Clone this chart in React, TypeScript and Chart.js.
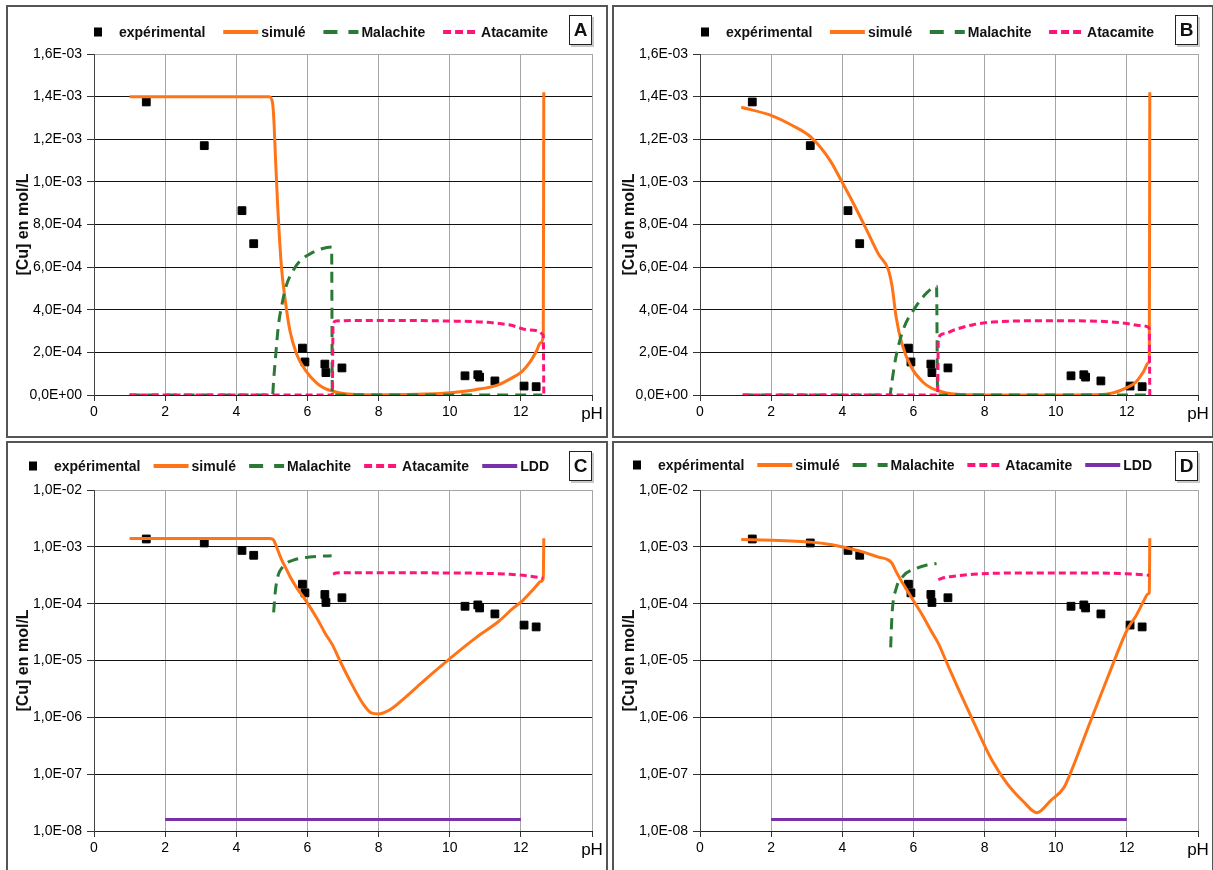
import React, { useEffect, useRef } from 'react';
import { Chart, registerables } from 'chart.js';

Chart.register(...registerables);

const FONT = "'Liberation Sans', Arial, sans-serif";

// ---------- data ----------
const X_TICKS = [0, 2, 4, 6, 8, 10, 12, 14];
const LIN_TICKS = [0, 2e-4, 4e-4, 6e-4, 8e-4, 1.0e-3, 1.2e-3, 1.4e-3, 1.6e-3];
const LOG_TICKS = [1e-8, 1e-7, 1e-6, 1e-5, 1e-4, 1e-3, 1e-2];

const LEGEND_NAMES = ['expérimental', 'simulé', 'Malachite', 'Atacamite', 'LDD'];
const Y_TITLE = '[Cu] en mol/L';

const phExp = [1.47, 3.10, 4.16, 4.49, 5.86, 5.93, 6.49, 6.52, 6.97, 10.43, 10.79, 10.84, 11.27, 12.09, 12.43];
const cuExp = [1.375e-3, 1.17e-3, 8.65e-4, 7.1e-4, 2.2e-4, 1.55e-4, 1.45e-4, 1.05e-4, 1.27e-4, 9.0e-5, 9.5e-5, 8.4e-5, 6.6e-5, 4.2e-5, 3.9e-5];

// simulation 1 (panels A and C)
const phSim1 = [1.0, 4.93, 5.02, 5.06, 5.10, 5.16, 5.27, 5.38, 5.51, 5.70, 5.94, 6.27, 6.50, 6.70, 6.92, 7.25, 7.57, 7.79, 8.01, 8.33, 8.77, 9.31, 10.02, 10.73, 11.38, 11.79, 12.03, 12.26, 12.45, 12.55, 12.63, 12.645];
const cuSim1 = [1.4e-3, 1.4e-3, 1.37e-3, 1.28e-3, 1.12e-3, 9.0e-4, 6.0e-4, 4.4e-4, 3.0e-4, 1.9e-4, 1.17e-4, 5.5e-5, 3.0e-5, 1.9e-5, 9.7e-6, 3.8e-6, 1.7e-6, 1.2e-6, 1.15e-6, 1.37e-6, 2.3e-6, 4.6e-6, 1.1e-5, 2.5e-5, 4.9e-5, 8.4e-5, 1.1e-4, 1.55e-4, 2.1e-4, 2.45e-4, 2.8e-4, 1.42e-3];
const phMal1 = [1.0, 5.02, 5.05, 5.10, 5.18, 5.29, 5.40, 5.62, 5.80, 6.05, 6.38, 6.68, 6.70, 12.6];
const cuMal1 = [0, 0, 7e-5, 1.7e-4, 3.2e-4, 4.3e-4, 5.1e-4, 5.9e-4, 6.3e-4, 6.6e-4, 6.85e-4, 6.95e-4, 0, 0];
const phAta1 = [1.0, 6.70, 6.72, 6.80, 7.5, 10.0, 11.05, 11.7, 12.25, 12.63, 12.645];
const cuAta1 = [0, 0, 3.3e-4, 3.47e-4, 3.5e-4, 3.47e-4, 3.41e-4, 3.28e-4, 3.05e-4, 2.8e-4, 0];

// simulation 2 (panels B and D)
const phSim2 = [1.16, 2.03, 2.57, 3.12, 3.66, 3.99, 4.31, 4.64, 5.02, 5.29, 5.40, 5.51, 5.67, 5.94, 6.27, 6.50, 6.70, 6.92, 7.25, 7.68, 8.22, 8.65, 9.09, 9.47, 9.85, 10.23, 10.40, 10.94, 11.49, 12.03, 12.25, 12.47, 12.60, 12.63, 12.645];
const cuSim2 = [1.35e-3, 1.31e-3, 1.267e-3, 1.21e-3, 1.10e-3, 1.0e-3, 9.0e-4, 7.9e-4, 6.6e-4, 5.9e-4, 5.1e-4, 3.7e-4, 2.45e-4, 1.3e-4, 6.0e-5, 3.3e-5, 2.0e-5, 9.7e-6, 3.3e-6, 8.6e-7, 1.7e-7, 6.6e-8, 3.3e-8, 2.1e-8, 3.4e-8, 5.8e-8, 9.9e-8, 7.4e-7, 5.6e-6, 3.7e-5, 6.0e-5, 1.1e-4, 1.5e-4, 1.55e-4, 1.42e-3];
const phMal2 = [1.2, 5.34, 5.36, 5.40, 5.51, 5.72, 6.05, 6.38, 6.65, 6.68, 12.6];
const cuMal2 = [0, 0, 1.7e-5, 6.7e-5, 1.8e-4, 3.1e-4, 4.1e-4, 4.8e-4, 5.1e-4, 0, 0];
const phAta2 = [1.2, 6.68, 6.70, 6.87, 7.14, 7.68, 8.22, 9.31, 10.40, 11.49, 12.00, 12.35, 12.63, 12.645];
const cuAta2 = [0, 0, 2.66e-4, 2.88e-4, 3.05e-4, 3.3e-4, 3.42e-4, 3.48e-4, 3.48e-4, 3.44e-4, 3.36e-4, 3.26e-4, 3.15e-4, 0];

const phLdd = [2, 12];
const cuLdd = [1.6e-8, 1.6e-8];

// ---------- styles ----------
const ORANGE = '#FF7417';
const GREEN = '#2A7A35';
const PINK = '#FF1478';
const PURPLE = '#7A30A8';

type PanelCfg = {
  letter: string;
  log: boolean;
  left: number;
  top: number;
  sim: [number[], number[]];
  mal: [number[], number[]];
  ata: [number[], number[]];
  ldd: boolean;
  legendLeft: number;
  legendRight: number;
  legendY: number;
};

const PANELS: PanelCfg[] = [
  { letter: 'A', log: false, left: 6, top: 5, sim: [phSim1, cuSim1], mal: [phMal1, cuMal1], ata: [phAta1, cuAta1], ldd: false, legendLeft: 73, legendRight: 540, legendY: 25 },
  { letter: 'B', log: false, left: 612, top: 5, sim: [phSim2, cuSim2], mal: [phMal2, cuMal2], ata: [phAta2, cuAta2], ldd: false, legendLeft: 74, legendRight: 540, legendY: 25 },
  { letter: 'C', log: true, left: 6, top: 441, sim: [phSim1, cuSim1], mal: [phMal1, cuMal1], ata: [phAta1, cuAta1], ldd: true, legendLeft: 8, legendRight: 541, legendY: 23 },
  { letter: 'D', log: true, left: 612, top: 441, sim: [phSim2, cuSim2], mal: [phMal2, cuMal2], ata: [phAta2, cuAta2], ldd: true, legendLeft: 6, legendRight: 538, legendY: 22 },
];

function fmtSci(v: number): string {
  if (Math.abs(v) < 1e-12) return '0,0E+00';
  let e = Math.floor(Math.log10(Math.abs(v)) + 1e-9);
  let ms = (v / Math.pow(10, e)).toFixed(1);
  if (ms === '10.0') { e += 1; ms = '1.0'; }
  return ms.replace('.', ',') + 'E' + (e < 0 ? '-' : '+') + String(Math.abs(e)).padStart(2, '0');
}

function pts(xs: number[], ys: number[], log: boolean) {
  return xs.map((x, i) => ({ x, y: log && ys[i] <= 0 ? null : ys[i] }));
}

function buildConfig(cfg: PanelCfg): any {
  const log = cfg.log;
  const yMax = log ? 1e-2 : 1.6e-3;
  const datasets: any[] = [
    {
      label: LEGEND_NAMES[0], data: pts(phExp, cuExp, log), showLine: false,
      pointStyle: 'rect', pointRadius: 5.5, pointBackgroundColor: '#000', pointBorderColor: '#000', pointBorderWidth: 1, order: 4,
    },
    {
      label: LEGEND_NAMES[1], data: pts(cfg.sim[0], cfg.sim[1], log), showLine: true, pointRadius: 0,
      borderColor: ORANGE, borderWidth: 3, cubicInterpolationMode: 'monotone', order: 3,
    },
    {
      label: LEGEND_NAMES[2], data: pts(cfg.mal[0], cfg.mal[1], log), showLine: true, pointRadius: 0,
      borderColor: GREEN, borderWidth: 3, borderDash: [11, 7], cubicInterpolationMode: 'monotone', order: 2,
    },
    {
      label: LEGEND_NAMES[3], data: pts(cfg.ata[0], cfg.ata[1], log), showLine: true, pointRadius: 0,
      borderColor: PINK, borderWidth: 3, borderDash: [7, 4], cubicInterpolationMode: 'monotone', order: 1,
    },
  ];
  if (cfg.ldd) {
    datasets.push({
      label: LEGEND_NAMES[4], data: pts(phLdd, cuLdd, log), showLine: true, pointRadius: 0,
      borderColor: PURPLE, borderWidth: 3, order: 0,
    });
  }

  const legendItems = [
    { name: LEGEND_NAMES[0], kind: 'square', color: '#000', dash: [] as number[] },
    { name: LEGEND_NAMES[1], kind: 'line', color: ORANGE, dash: [] as number[] },
    { name: LEGEND_NAMES[2], kind: 'line', color: GREEN, dash: [14, 11] },
    { name: LEGEND_NAMES[3], kind: 'line', color: PINK, dash: [8, 4] },
  ];
  if (cfg.ldd) legendItems.push({ name: LEGEND_NAMES[4], kind: 'line', color: PURPLE, dash: [] });

  const decor = {
    id: 'decor' + cfg.letter,
    afterDraw(chart: any) {
      const { ctx, chartArea } = chart;
      ctx.save();
      // legend
      ctx.font = `bold 14px ${FONT}`;
      const KEY = 35, GAP = 3;
      const widths = legendItems.map((it) => KEY + GAP + ctx.measureText(it.name).width);
      const total = widths.reduce((a, b) => a + b, 0);
      const sp = (cfg.legendRight - cfg.legendLeft - total) / (legendItems.length - 1);
      let x = cfg.legendLeft;
      const y = cfg.legendY;
      legendItems.forEach((it, i) => {
        if (it.kind === 'square') {
          ctx.fillStyle = it.color;
          ctx.fillRect(x + 17 - 4, y - 4.5, 8, 9);
        } else {
          ctx.strokeStyle = it.color;
          ctx.lineWidth = 4;
          ctx.setLineDash(it.dash);
          ctx.beginPath();
          ctx.moveTo(x, y);
          ctx.lineTo(x + KEY, y);
          ctx.stroke();
          ctx.setLineDash([]);
        }
        ctx.fillStyle = '#111';
        ctx.textAlign = 'left';
        ctx.textBaseline = 'middle';
        ctx.fillText(it.name, x + KEY + GAP, y + 1);
        x += widths[i] + sp;
      });
      // panel letter box
      const bx = chartArea.right - 23, by = 8, bw = 23, bh = 30;
      ctx.fillStyle = '#c8c8c8';
      ctx.fillRect(bx + 2, by + 2, bw, bh);
      ctx.fillStyle = '#fff';
      ctx.fillRect(bx, by, bw, bh);
      ctx.strokeStyle = '#222';
      ctx.lineWidth = 1;
      ctx.strokeRect(bx + 0.5, by + 0.5, bw - 1, bh - 1);
      ctx.fillStyle = '#111';
      ctx.font = `bold 19px ${FONT}`;
      ctx.textAlign = 'center';
      ctx.textBaseline = 'middle';
      ctx.fillText(cfg.letter, bx + bw / 2, by + bh / 2 + 1);
      ctx.restore();
    },
  };

  return {
    type: 'scatter',
    data: { datasets },
    options: {
      animation: false,
      responsive: false,
      maintainAspectRatio: false,
      events: [],
      layout: { padding: { left: 0, top: 47, right: 14, bottom: 0 } },
      plugins: { legend: { display: false }, tooltip: { enabled: false }, title: { display: false } },
      scales: {
        x: {
          type: 'linear', min: 0, max: 14,
          afterBuildTicks: (s: any) => { s.ticks = X_TICKS.map((v) => ({ value: v })); },
          afterFit: (s: any) => { s.height = 41; },
          ticks: {
            autoSkip: false, maxRotation: 0, minRotation: 0, padding: 3, color: '#000',
            font: (c: any) => (c.tick && c.tick.value === 14 ? { family: FONT, size: 17 } : { family: FONT, size: 14 }),
            callback: (v: any) => (Number(v) === 14 ? 'pH' : String(v)),
          },
          grid: { color: '#a6a6a6', lineWidth: 1, drawTicks: true, tickLength: 6, tickColor: '#333', tickWidth: 1 },
          border: { display: true, color: '#222', width: 1 },
        },
        y: {
          type: log ? 'logarithmic' : 'linear',
          min: log ? 1e-8 : 0,
          max: yMax,
          afterBuildTicks: (s: any) => { s.ticks = (log ? LOG_TICKS : LIN_TICKS).map((v) => ({ value: v })); },
          afterFit: (s: any) => { s.width = 86; },
          ticks: {
            autoSkip: false, padding: 5, color: '#000', font: { family: FONT, size: 14 },
            callback: (v: any) => fmtSci(Number(v)),
          },
          grid: {
            color: (c: any) => (c.tick && Math.abs(c.tick.value - yMax) < yMax * 1e-6 ? '#a6a6a6' : '#111'),
            lineWidth: 1, drawTicks: true, tickLength: 7, tickColor: '#333', tickWidth: 1,
          },
          border: { display: true, color: '#444', width: 1 },
          title: {
            display: true, text: Y_TITLE, color: '#111',
            font: { family: FONT, size: 16, weight: 'bold' },
            padding: { top: 6, bottom: 0 },
          },
        },
      },
    },
    plugins: [decor],
  };
}

function Panel({ cfg }: { cfg: PanelCfg }) {
  const ref = useRef<HTMLCanvasElement>(null);
  useEffect(() => {
    const chart = new Chart(ref.current as HTMLCanvasElement, buildConfig(cfg));
    return () => chart.destroy();
  }, [cfg]);
  return (
    <div style={{ position: 'absolute', left: cfg.left, top: cfg.top, width: 598, height: 429, border: '2px solid #555', background: '#fff' }}>
      <canvas ref={ref} width={598} height={429} style={{ display: 'block', width: 598, height: 429 }} />
    </div>
  );
}

export default function App() {
  return (
    <div style={{ position: 'fixed', left: 0, top: 0, width: 1213, height: 870, background: '#fff', overflow: 'hidden' }}>
      {PANELS.map((p) => (
        <Panel key={p.letter} cfg={p} />
      ))}
    </div>
  );
}
